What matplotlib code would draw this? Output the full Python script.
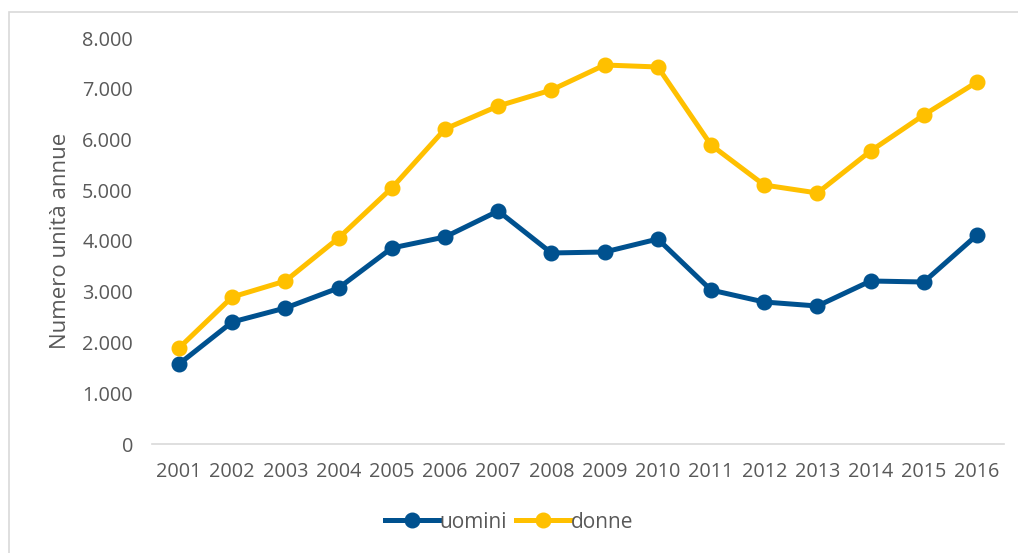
import matplotlib
matplotlib.use("Agg")
import matplotlib.pyplot as plt
from matplotlib.patches import Rectangle
from matplotlib.ticker import FuncFormatter

years = ["2001", "2002", "2003", "2004", "2005", "2006", "2007", "2008",
         "2009", "2010", "2011", "2012", "2013", "2014", "2015", "2016"]
uomini = [1576, 2404, 2680, 3074, 3862, 4079, 4591, 3764,
          3783, 4039, 3034, 2798, 2719, 3212, 3192, 4118]
donne = [1892, 2897, 3212, 4059, 5044, 6207, 6660, 6975,
         7468, 7429, 5892, 5103, 4946, 5773, 6483, 7133]

BLUE = "#00518F"
YELLOW = "#FFC000"
GRAY = "#595959"

plt.rcParams['font.family'] = ['Open Sans', 'DejaVu Sans']

fig = plt.figure(figsize=(10.18, 5.53), dpi=100)
fig.patches.append(Rectangle((9 / 1018, -0.05), 1.1, (553 - 12) / 553 + 0.05,
                             transform=fig.transFigure, fill=False,
                             edgecolor="#D9D9D9", linewidth=1.2))
ax = fig.add_axes([152.4 / 1018, 109 / 553, (1003.6 - 152.4) / 1018, (515 - 109) / 553])

x = list(range(len(years)))
ax.plot(x, uomini, color=BLUE, linewidth=3.6, marker='o', markersize=10.5,
        label="uomini", solid_joinstyle='round')
ax.plot(x, donne, color=YELLOW, linewidth=3.6, marker='o', markersize=10.5,
        label="donne", solid_joinstyle='round')

ax.set_xlim(-0.5, len(years) - 0.5)
ax.set_ylim(0, 8000)
ax.set_yticks(range(0, 8001, 1000))
ax.yaxis.set_major_formatter(FuncFormatter(lambda v, p: f"{int(v):,}".replace(",", ".")))
ax.set_xticks(x)
ax.set_xticklabels(years)

for s in ["top", "right", "left"]:
    ax.spines[s].set_visible(False)
ax.spines["bottom"].set_color("#D9D9D9")
ax.spines["bottom"].set_linewidth(1.2)
ax.tick_params(axis='both', length=0, labelsize=14.3, colors=GRAY)
ax.tick_params(axis='x', pad=13)
ax.tick_params(axis='y', pad=14)
ax.set_ylabel("Numero unità annue", fontsize=16, color=GRAY, labelpad=8)

leg = fig.legend(loc="center", bbox_to_anchor=(0.5, 1 - 522 / 553), ncol=2,
                 frameon=False, fontsize=15, handlelength=2.6, handletextpad=0.05,
                 columnspacing=0.4)
for t in leg.get_texts():
    t.set_color(GRAY)

fig.savefig("out.png", dpi=100)
